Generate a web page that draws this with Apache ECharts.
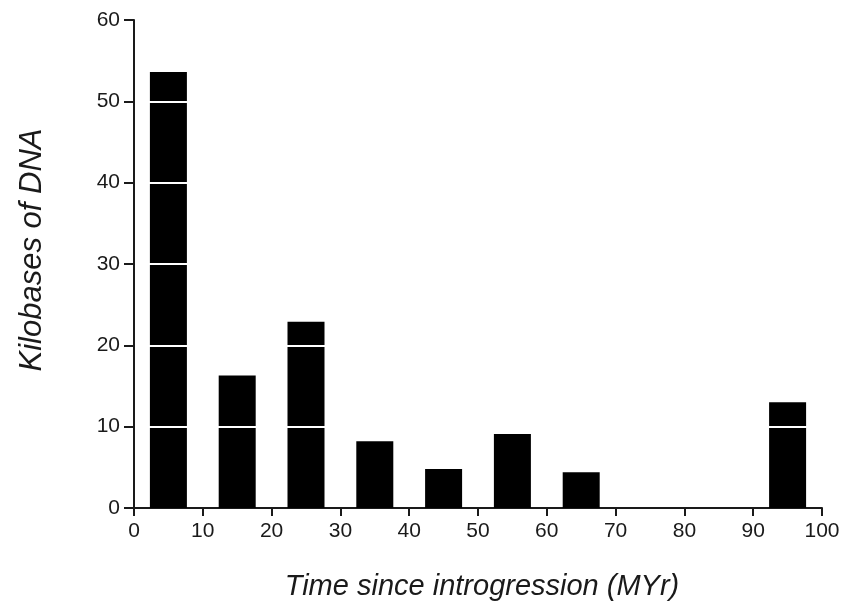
<!DOCTYPE html>
<html>
<head>
<meta charset="utf-8">
<script src="https://cdn.jsdelivr.net/npm/echarts@6/dist/echarts.min.js"></script>
<style>
  html, body { margin: 0; padding: 0; background: #fff; }
  #chart { width: 843px; height: 606px; }
</style>
</head>
<body>
<div id="chart"></div>
<script>
// bin centres (MYr) and kilobases per bin
const binCentres = [5, 15, 25, 35, 45, 55, 65, 75, 85, 95];
const kilobases = [53.6, 16.3, 22.9, 8.2, 4.8, 9.1, 4.4, 0, 0, 13.0];
const gridValues = [10, 20, 30, 40, 50];

const ink = '#1a1a1a';
const font = '"Liberation Sans", Arial, sans-serif';

const chart = echarts.init(document.getElementById('chart'));

// white rules through the bars
const rules = gridValues.map(v => [
  { coord: [1, v] },
  { coord: [99, v] }
]);

chart.setOption({
  animation: false,
  backgroundColor: '#fff',
  grid: { left: 134, right: 21, top: 20, bottom: 97 },
  xAxis: {
    type: 'value',
    min: 0,
    max: 100,
    interval: 10,
    name: 'Time since introgression (MYr)',
    nameLocation: 'middle',
    nameGap: 64,
    nameTextStyle: { fontFamily: font, fontStyle: 'italic', fontSize: 29, color: ink, padding: [0, 0, 0, 8] },
    axisLine: { lineStyle: { color: ink, width: 2 } },
    axisTick: { length: 8, lineStyle: { color: ink, width: 2 } },
    axisLabel: { fontFamily: font, fontSize: 21, color: ink, margin: 13 },
    splitLine: { show: false }
  },
  yAxis: {
    type: 'value',
    min: 0,
    max: 60,
    interval: 10,
    name: 'Kilobases of DNA',
    nameLocation: 'middle',
    nameGap: 86,
    nameTextStyle: { fontFamily: font, fontStyle: 'italic', fontSize: 31, color: ink, padding: [0, 0, 0, 28] },
    axisLine: { show: true, lineStyle: { color: ink, width: 2 } },
    axisTick: { show: true, length: 10, lineStyle: { color: ink, width: 2 } },
    axisLabel: { fontFamily: font, fontSize: 21, color: ink, margin: 14 },
    splitLine: { show: false }
  },
  series: [{
    type: 'bar',
    data: binCentres.map((x, i) => [x, kilobases[i]]),
    barWidth: 37,
    itemStyle: { color: '#000' },
    markLine: {
      silent: true,
      symbol: 'none',
      label: { show: false },
      lineStyle: { color: '#fff', width: 2, type: 'solid' },
      data: rules
    }
  }]
});
</script>
</body>
</html>
